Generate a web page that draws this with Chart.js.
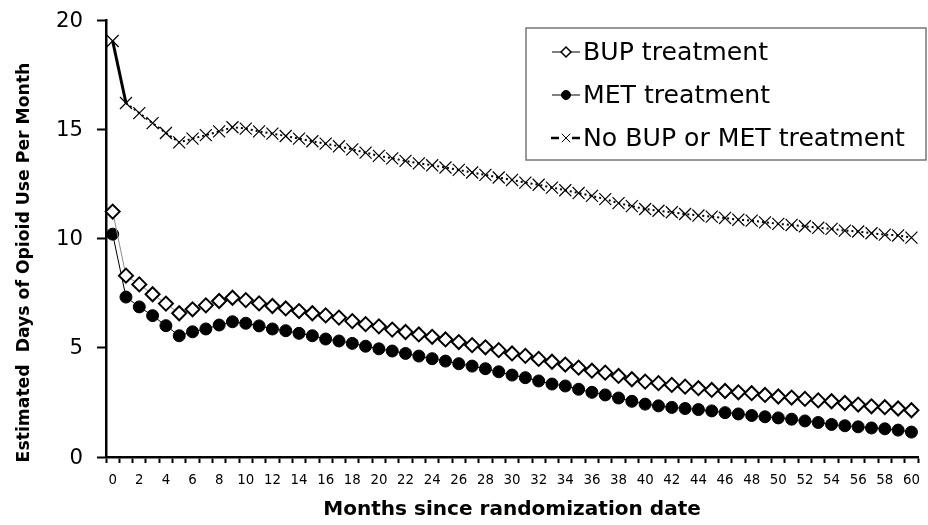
<!DOCTYPE html>
<html>
<head>
<meta charset="utf-8">
<script src="https://cdn.jsdelivr.net/npm/chart.js@4"></script>
<style>
html,body{margin:0;padding:0;background:#fff;}
#wrap{width:928px;height:525px;}
</style>
</head>
<body>
<div id="wrap"><canvas id="c" width="928" height="525"></canvas></div>
<script>
const months = Array.from({length: 61}, (_, i) => String(i));
const seriesLabels = ['BUP treatment', 'MET treatment', 'No BUP or MET treatment'];
const bupValues = [
  11.23, 8.30, 7.90, 7.45, 7.02, 6.58, 6.76, 6.94, 7.14, 7.29,
  7.18, 7.03, 6.91, 6.80, 6.68, 6.58, 6.48, 6.38, 6.22, 6.08,
  5.98, 5.83, 5.72, 5.61, 5.50, 5.38, 5.26, 5.12, 5.02, 4.89,
  4.74, 4.63, 4.49, 4.36, 4.23, 4.09, 3.95, 3.86, 3.71, 3.56,
  3.45, 3.38, 3.30, 3.22, 3.15, 3.07, 3.02, 2.96, 2.92, 2.84,
  2.77, 2.72, 2.66, 2.59, 2.55, 2.47, 2.40, 2.32, 2.28, 2.22,
  2.14
];
const metValues = [
  10.20, 7.32, 6.87, 6.47, 6.01, 5.55, 5.73, 5.86, 6.04, 6.19,
  6.12, 6.00, 5.86, 5.78, 5.66, 5.55, 5.40, 5.31, 5.20, 5.07,
  4.95, 4.85, 4.74, 4.62, 4.50, 4.39, 4.27, 4.16, 4.04, 3.90,
  3.75, 3.63, 3.48, 3.34, 3.25, 3.10, 2.96, 2.84, 2.70, 2.55,
  2.42, 2.34, 2.27, 2.22, 2.17, 2.11, 2.03, 1.97, 1.90, 1.84,
  1.79, 1.73, 1.65, 1.58, 1.49, 1.43, 1.38, 1.33, 1.29, 1.23,
  1.14
];
const noTxValues = [
  19.04, 16.20, 15.74, 15.28, 14.83, 14.40, 14.57, 14.73, 14.90, 15.09,
  15.03, 14.90, 14.80, 14.69, 14.57, 14.45, 14.34, 14.22, 14.08, 13.93,
  13.78, 13.67, 13.55, 13.44, 13.35, 13.25, 13.14, 13.02, 12.91, 12.79,
  12.68, 12.56, 12.46, 12.33, 12.21, 12.08, 11.95, 11.80, 11.62, 11.48,
  11.35, 11.27, 11.20, 11.12, 11.05, 11.00, 10.94, 10.86, 10.82, 10.74,
  10.67, 10.62, 10.56, 10.49, 10.44, 10.36, 10.32, 10.24, 10.18, 10.14,
  10.04
];
const yTicks = [0, 5, 10, 15, 20];
const xTitle = 'Months since randomization date';
const yTitle = 'Estimated  Days of Opioid Use Per Month';

const FONT = "'DejaVu Sans', Verdana, sans-serif";
const COND = "'DejaVu Sans Condensed', 'Liberation Sans Narrow', 'DejaVu Sans', sans-serif";

// font sizes fitted to the text widths measured on the reference
const mctx = document.createElement('canvas').getContext('2d');
function fitSize(text, family, weight, target) {
  mctx.font = weight + ' 100px ' + family;
  return 100 * target / mctx.measureText(text).width;
}
const legendSize = fitSize(seriesLabels[2], FONT, 'normal', 322);
const xTitleSize = fitSize(xTitle, FONT, 'bold', 378);
const yTitleSize = fitSize(yTitle, FONT, 'bold', 400);
const yTickSize = fitSize('20', FONT, 'normal', 27);
const xTickSize = fitSize('52', COND, 'normal', 17);

// y tick labels, right-aligned just left of the tick marks
const yTickLabels = {
  id: 'yTickLabels',
  afterDraw(chart) {
    const ctx = chart.ctx;
    const ys = chart.scales.y;
    const right = ys.right - ys.options.grid.tickLength - 14;
    ctx.save();
    ctx.fillStyle = '#000';
    ctx.font = yTickSize.toFixed(2) + 'px ' + FONT;
    ctx.textAlign = 'right';
    ctx.textBaseline = 'middle';
    yTicks.forEach(v => ctx.fillText(String(v), right, ys.getPixelForValue(v) + 1));
    ctx.restore();
  }
};

const boxLegend = {
  id: 'boxLegend',
  afterDraw(chart) {
    const ctx = chart.ctx;
    const x0 = 526, y0 = 28, x1 = 926, y1 = 160;
    ctx.save();
    ctx.strokeStyle = '#777';
    ctx.lineWidth = 1.5;
    ctx.strokeRect(x0, y0, x1 - x0, y1 - y0);
    const rows = [52, 95, 138];
    chart.data.datasets.forEach((ds, i) => {
      const y = rows[i];
      ctx.save();
      ctx.strokeStyle = '#000';
      ctx.lineWidth = i === 2 ? 2.5 : 1;
      if (i === 2) {
        ctx.beginPath(); ctx.moveTo(551, y); ctx.lineTo(559, y); ctx.stroke();
        ctx.beginPath(); ctx.moveTo(572, y); ctx.lineTo(580, y); ctx.stroke();
      } else {
        ctx.beginPath(); ctx.moveTo(552, y); ctx.lineTo(580, y); ctx.stroke();
      }
      ctx.restore();
      ctx.save();
      ctx.fillStyle = ds.pointBackgroundColor;
      ctx.strokeStyle = ds.pointBorderColor;
      ctx.lineWidth = i === 0 ? 1.5 : 1;
      const r = i === 0 ? 5 : (i === 1 ? 4.5 : 6);
      Chart.helpers.drawPoint(ctx, {pointStyle: ds.pointStyle, radius: r, borderWidth: ctx.lineWidth}, 566, y);
      ctx.restore();
      ctx.save();
      ctx.fillStyle = '#000';
      ctx.font = legendSize.toFixed(2) + 'px ' + FONT;
      ctx.textBaseline = 'middle';
      ctx.textAlign = 'left';
      ctx.fillText(ds.label, 583, y + 1);
      ctx.restore();
    });
    ctx.restore();
  }
};

new Chart(document.getElementById('c'), {
  type: 'line',
  data: {
    labels: months,
    datasets: [
      {
        label: seriesLabels[0],
        data: bupValues,
        borderColor: '#8c8c8c',
        borderWidth: 1,
        pointStyle: 'rectRot',
        pointRadius: 7,
        pointBorderWidth: 2,
        pointBackgroundColor: '#ffffff',
        pointBorderColor: '#000000',
        tension: 0
      },
      {
        label: seriesLabels[1],
        data: metValues,
        borderColor: '#000000',
        borderWidth: 1,
        pointStyle: 'circle',
        pointRadius: 6,
        pointBorderWidth: 1,
        pointBackgroundColor: '#000000',
        pointBorderColor: '#000000',
        tension: 0
      },
      {
        label: seriesLabels[2],
        data: noTxValues,
        borderColor: '#000000',
        borderWidth: 2,
        borderDash: [2, 3],
        pointStyle: 'crossRot',
        pointRadius: 8.5,
        pointBorderWidth: 1.2,
        pointBackgroundColor: '#000000',
        pointBorderColor: '#000000',
        tension: 0,
        segment: {
          borderDash: c => c.p0DataIndex === 0 ? [] : [2, 3],
          borderWidth: c => c.p0DataIndex === 0 ? 3 : 2
        }
      }
    ]
  },
  options: {
    responsive: false,
    animation: false,
    devicePixelRatio: 1,
    layout: {padding: {top: 20, right: 1, left: 0, bottom: 0}},
    plugins: {
      legend: {display: false},
      tooltip: {enabled: false}
    },
    scales: {
      x: {
        type: 'category',
        offset: true,
        grid: {display: true, drawOnChartArea: false, drawTicks: true, offset: true, tickLength: 6, tickWidth: 2, tickColor: '#000'},
        border: {display: true, color: '#000', width: 2.5},
        ticks: {
          autoSkip: false,
          maxRotation: 0,
          minRotation: 0,
          padding: 8,
          color: '#000',
          font: {family: COND, size: xTickSize},
          callback: function(v, i) { return i % 2 === 0 ? months[i] : ''; }
        },
        title: {display: true, text: xTitle, color: '#000', font: {family: FONT, size: xTitleSize, weight: 'bold'}, padding: {top: 0, bottom: 3}},
        afterFit: s => { s.height = 68; }
      },
      y: {
        min: 0,
        max: 20,
        afterBuildTicks: s => { s.ticks = yTicks.map(v => ({value: v})); },
        grid: {display: true, drawOnChartArea: false, drawTicks: true, tickLength: 9, tickWidth: 2, tickColor: '#000'},
        border: {display: true, color: '#000', width: 2.5},
        ticks: {display: false},
        title: {display: true, text: yTitle + '        ', color: '#000', font: {family: FONT, size: yTitleSize, weight: 'bold'}, padding: {top: 14, bottom: 0}},
        afterFit: s => { s.width = 106; }
      }
    }
  },
  plugins: [yTickLabels, boxLegend]
});
</script>
</body>
</html>
